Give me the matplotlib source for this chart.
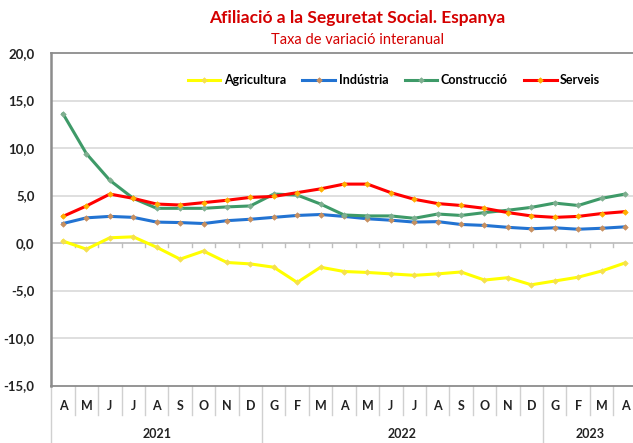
import matplotlib
matplotlib.use("Agg")
import matplotlib.pyplot as plt
import matplotlib.transforms as mtransforms

months = ["A", "M", "J", "J", "A", "S", "O", "N", "D",
          "G", "F", "M", "A", "M", "J", "J", "A", "S", "O", "N", "D",
          "G", "F", "M", "A"]
years = ["2021", "2022", "2023"]
year_counts = [9, 12, 4]

agricultura = [0.2, -0.65, 0.55, 0.65, -0.45, -1.7, -0.85, -2.05, -2.2,
               -2.55, -4.15, -2.55, -3.0, -3.1, -3.25, -3.4, -3.25, -3.05, -3.9, -3.65, -4.4,
               -4.0, -3.6, -2.95, -2.1]
industria = [2.05, 2.65, 2.8, 2.7, 2.2, 2.15, 2.05, 2.35, 2.5,
             2.7, 2.9, 3.0, 2.8, 2.55, 2.4, 2.2, 2.25, 1.95, 1.85, 1.65, 1.5,
             1.6, 1.45, 1.55, 1.7]
construccio = [13.6, 9.4, 6.6, 4.7, 3.65, 3.65, 3.65, 3.8, 3.9,
               5.15, 5.05, 4.1, 2.95, 2.85, 2.85, 2.6, 3.05, 2.9, 3.2, 3.45, 3.75,
               4.2, 3.95, 4.7, 5.15]
serveis = [2.8, 3.9, 5.15, 4.7, 4.1, 4.0, 4.25, 4.5, 4.8,
           4.9, 5.3, 5.7, 6.2, 6.2, 5.3, 4.6, 4.15, 3.95, 3.65, 3.2, 2.85,
           2.7, 2.8, 3.1, 3.3]

series_names = ["Agricultura", "Indústria", "Construcció", "Serveis"]
y_ticks = [20, 15, 10, 5, 0, -5, -10, -15]

FONT = "Lato"
plt.rcParams["font.family"] = [FONT, "DejaVu Sans"]

fig = plt.figure(figsize=(6.33, 4.43), dpi=100)
ax = fig.add_axes([51.3 / 633, 1 - 385.5 / 443, (636.7 - 51.3) / 633, (385.5 - 53) / 443])

x = list(range(len(months)))
styles = [
    (agricultura, "#FFFF00", "#F5E050"),
    (industria, "#2273D2", "#C89060"),
    (construccio, "#3E9A68", "#7FAF90"),
    (serveis, "#FF0000", "#FFB000"),
]
for (vals, col, mfc), name in zip(styles, series_names):
    ax.plot(x, vals, color=col, lw=2.2, marker="D", ms=2.8, mfc=mfc, mec=mfc,
            mew=0.5, label=name, zorder=3)

ax.set_xlim(-0.5, len(months) - 0.5)
ax.set_ylim(-15, 20)
ax.set_yticks(y_ticks)
ax.set_yticklabels([f"{v:.1f}".replace(".", ",") for v in y_ticks],
                   fontsize=9.5, fontweight="bold", color="#222222")
ax.tick_params(axis="y", length=0, pad=12)
ax.set_xticks([])
for v in [15, 10, 5, -5, -10]:
    ax.axhline(v, color="#D9D9D9", lw=1.2, zorder=1)
ax.axhline(0, color="#BFBFBF", lw=1.3, zorder=2)
# tick marks at the zero line between categories
for i in range(len(months)):
    ax.plot([i + 0.5, i + 0.5], [0, -0.45], color="#BFBFBF", lw=1.0, zorder=2)

for s in ["left", "top", "bottom", "right"]:
    ax.spines[s].set_color("#8C8C8C")
    ax.spines[s].set_linewidth(1.3)
ax.spines["left"].set_linewidth(1.8)

trans = mtransforms.blended_transform_factory(ax.transData, ax.transAxes)
h = 385.5 - 53
def fy(py):
    return (385.5 - py) / h

for i, m in enumerate(months):
    ax.text(i, fy(406), m, transform=trans, ha="center", va="center",
            fontsize=9, fontweight="bold", color="#222222", clip_on=False)
# separators
boundaries = []
acc = 0
for c in year_counts:
    acc += c
    boundaries.append(acc)
for i in range(len(months)):
    xb = i - 0.5
    if xb == -0.5 or (i in boundaries):
        y0 = fy(443)
    else:
        y0 = fy(415)
    ax.plot([xb, xb], [fy(385.5), y0], transform=trans, color="#D0D0D0",
            lw=1.0, clip_on=False)
start = 0
for yr, c in zip(years, year_counts):
    ax.text(start + (c - 1) / 2, fy(434), yr, transform=trans, ha="center",
            va="center", fontsize=9, fontweight="bold", color="#222222", clip_on=False)
    start += c

fig.text(357 / 633, 1 - 18 / 443, "Afiliació a la Seguretat Social. Espanya",
         ha="center", va="center", fontsize=12.5, fontweight="bold", color="#D40000")
fig.text(357 / 633, 1 - 40 / 443, "Taxa de variació interanual",
         ha="center", va="center", fontsize=10.5, color="#D40000")

leg = ax.legend(loc="center", bbox_to_anchor=(394 / 633, 1 - 80 / 443),
                bbox_transform=fig.transFigure, ncol=4, frameon=False,
                prop={"family": FONT, "weight": "bold", "size": 9},
                handlelength=2.6, handletextpad=0.3, columnspacing=1.3)

fig.savefig("out.png", dpi=100)
